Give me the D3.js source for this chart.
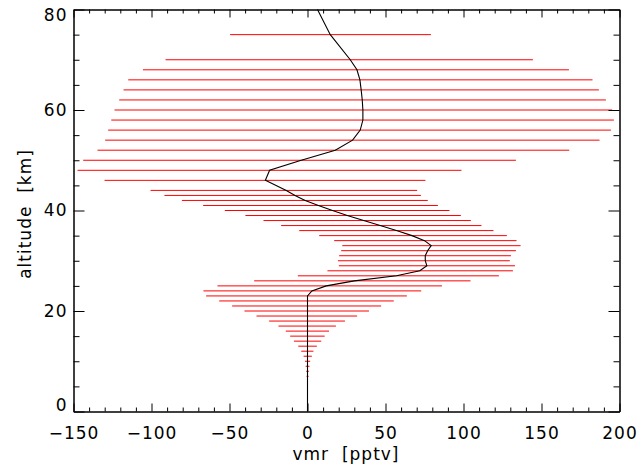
<!DOCTYPE html>
<html>
<head>
<meta charset="utf-8">
<script src="https://cdn.jsdelivr.net/npm/d3@7"></script>
<style>
  body { margin: 0; background: #fff; }
  svg { display: block; }
  .axis text { font-family: "DejaVu Sans", sans-serif; font-size: 17px; letter-spacing: 1px; fill: #000; }
  .axis path, .axis line { stroke: #000; stroke-width: 1; }
  .title { font-family: "DejaVu Sans", sans-serif; font-size: 17px; letter-spacing: 1px; fill: #000; white-space: pre; }
</style>
</head>
<body>
<div id="chart"></div>
<script>
// error bars: altitude [km], lower and upper vmr [pptv]
var barAlt = [7, 8, 9, 10, 11, 12, 13, 14, 15, 16, 17, 18, 19, 20, 21, 22, 23, 24, 25, 26,
  27, 28, 29, 30, 31, 32, 33, 34, 35, 36, 37, 38, 39, 40, 41, 42, 43, 44,
  46, 48, 50, 52, 54, 56, 58, 60, 62, 64, 66, 68, 70, 75];
var barLo = [-0.6, -0.8, -1.2, -1.6, -2.5, -4, -5.9, -8.7, -11.1, -13.9, -18.6, -24.6, -32.7, -40.4, -48.3, -56.6, -65, -66.7, -57.7, -34.2,
  -6.2, 12.8, 20.1, 19.5, 20.3, 21.6, 22.3, 17.1, 7.5, -5.3, -16.9, -28.2, -39.8, -53, -66.9, -80.5, -91.7, -100.6,
  -130.1, -147.4, -143.8, -134.6, -129.7, -127.8, -125.8, -123.7, -120.7, -117.9, -114.9, -105.5, -91, -49.6];
var barHi = [0.7, 0.9, 1.3, 1.7, 2.8, 3.8, 6.0, 8.8, 11, 13.8, 18.2, 24, 31.8, 39.4, 47.2, 55.3, 63.7, 72.9, 86.2, 104.5,
  122.7, 131.7, 133, 129.7, 130.4, 133.6, 136.6, 134, 127.8, 119.2, 111.5, 104.7, 98.3, 91, 83.6, 77.1, 72.7, 70.3,
  75.6, 98.7, 133.6, 167.8, 187.2, 194.5, 196.4, 195.3, 191.3, 186.8, 182.7, 167.6, 144.5, 79.1];

// retrieved profile
var profAlt = [0, 23, 24, 25, 26, 27, 28, 29, 30, 31, 32, 33, 34, 35, 36, 37, 38, 39, 40, 41, 42, 43, 44,
  46, 48, 50, 52, 54, 56, 58, 60, 62, 64, 66, 68, 70, 75, 80];
var profVmr = [0, 0, 2.8, 12, 30, 57, 72, 76.5, 75.5, 75.5, 77, 79.3, 75, 67, 57, 46.6, 36, 25.5, 16, 7, -1.5, -8, -13.6,
  -27, -24.3, -4, 17.8, 28.9, 33.8, 35.5, 35.5, 35.1, 34.4, 33.6, 31.7, 27.4, 14.6, 6.4];

var xTicks = [-150, -100, -50, 0, 50, 100, 150, 200];
var xMinor = [-140, -130, -120, -110, -90, -80, -70, -60, -40, -30, -20, -10,
  10, 20, 30, 40, 60, 70, 80, 90, 110, 120, 130, 140, 160, 170, 180, 190];
var yTicks = [0, 20, 40, 60, 80];
var yMinor = [5, 10, 15, 25, 30, 35, 45, 50, 55, 65, 70, 75];

var width = 640, height = 469;
var plotL = 73.5, plotR = 619.5, plotT = 9.5, plotB = 411.5;

var svg = d3.select('#chart').append('svg')
  .attr('width', width)
  .attr('height', height);

var x = d3.scaleLinear().domain([-150, 200]).range([plotL, plotR]);
var y = d3.scaleLinear().domain([0, 80]).range([plotB, plotT]);

// error bars
svg.append('g').selectAll('line')
  .data(barAlt)
  .enter()
  .append('line')
  .attr('x1', function(d, i) { return x(barLo[i]); })
  .attr('x2', function(d, i) { return x(barHi[i]); })
  .attr('y1', function(d) { return y(d); })
  .attr('y2', function(d) { return y(d); })
  .attr('stroke', '#ff0000')
  .attr('stroke-width', 1);

// profile
var line = d3.line()
  .x(function(d, i) { return x(profVmr[i]); })
  .y(function(d) { return y(d); });

svg.append('path')
  .datum(profAlt)
  .attr('d', line)
  .attr('fill', 'none')
  .attr('stroke', '#000')
  .attr('stroke-width', 1.1);

// axes, ticks pointing inward on all four sides
svg.append('g').attr('class', 'axis')
  .attr('transform', 'translate(0,' + plotB + ')')
  .call(d3.axisBottom(x).tickValues(xTicks).tickSize(-8).tickSizeOuter(0).tickPadding(15)
    .tickFormat(function(d) { return d < 0 ? '\u2212' + Math.abs(d) : d; }));
svg.append('g').attr('class', 'axis')
  .attr('transform', 'translate(0,' + plotB + ')')
  .call(d3.axisBottom(x).tickValues(xMinor).tickSize(-4).tickSizeOuter(0).tickFormat(''));
svg.append('g').attr('class', 'axis')
  .attr('transform', 'translate(0,' + plotT + ')')
  .call(d3.axisTop(x).tickValues(xTicks).tickSize(-8).tickSizeOuter(0).tickFormat(''));
svg.append('g').attr('class', 'axis')
  .attr('transform', 'translate(0,' + plotT + ')')
  .call(d3.axisTop(x).tickValues(xMinor).tickSize(-4).tickSizeOuter(0).tickFormat(''));

var yAxis = svg.append('g').attr('class', 'axis')
  .attr('transform', 'translate(' + plotL + ',0)')
  .call(d3.axisLeft(y).tickValues(yTicks).tickSize(-11).tickSizeOuter(0).tickPadding(6));
yAxis.selectAll('text').attr('dy', function(d) {
  return d === 0 ? '-0.05em' : d === 80 ? '0.62em' : '0.32em';
});
svg.append('g').attr('class', 'axis')
  .attr('transform', 'translate(' + plotL + ',0)')
  .call(d3.axisLeft(y).tickValues(yMinor).tickSize(-6).tickSizeOuter(0).tickFormat(''));
svg.append('g').attr('class', 'axis')
  .attr('transform', 'translate(' + plotR + ',0)')
  .call(d3.axisRight(y).tickValues(yTicks).tickSize(-11).tickSizeOuter(0).tickFormat(''));
svg.append('g').attr('class', 'axis')
  .attr('transform', 'translate(' + plotR + ',0)')
  .call(d3.axisRight(y).tickValues(yMinor).tickSize(-6).tickSizeOuter(0).tickFormat(''));

// axis titles
svg.append('text')
  .attr('class', 'title')
  .attr('x', 346)
  .attr('y', 460)
  .attr('text-anchor', 'middle')
  .text('vmr  [pptv]');

svg.append('text')
  .attr('class', 'title')
  .attr('transform', 'translate(31,214) rotate(-90)')
  .attr('text-anchor', 'middle')
  .text('altitude  [km]');
</script>
</body>
</html>
